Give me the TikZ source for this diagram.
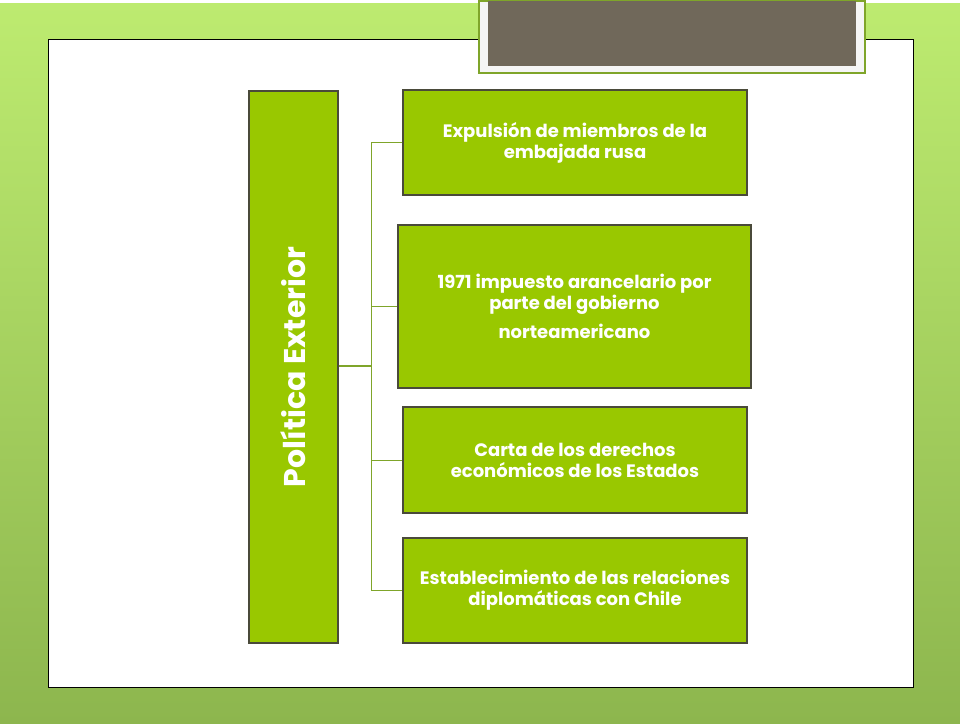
\documentclass[tikz,border=0pt]{standalone}
\usepackage{fontspec}
\setmainfont{Poppins}
\definecolor{leaf}{HTML}{99C800}
\definecolor{edge}{HTML}{4A4A3A}
\definecolor{stone}{HTML}{70685A}
\definecolor{olive}{HTML}{7FA52A}
\definecolor{limetop}{HTML}{BDEB70}
\definecolor{limebot}{HTML}{8DB64E}
\begin{document}
\begin{tikzpicture}[x=1pt, y=-1pt,
    every node/.style={font=\bfseries},
    leafbox/.style={draw=edge, fill=leaf, line width=1.2pt, text=white,
        inner sep=0pt, align=center, font=\fontsize{18}{21}\selectfont\bfseries},
    branch/.style={olive, line width=1pt}]
    % Background and panel
    \shade[top color=limetop, bottom color=limebot] (0,0) rectangle (960,720);
    \draw[black, fill=white, line width=0.8pt] (48,36) rectangle (913,684);
    % Title box at the top
    \draw[olive, fill=gray!8, line width=2pt] (479,-2) rectangle (865,70);
    \fill[stone] (488,-2) rectangle (856,63);

    % Main vertical box
    \node[leafbox, minimum width=89, minimum height=552] (main) at (293.5,364) {};
    \node[rotate=90, text=white, font=\fontsize{30}{34}\selectfont\bfseries] at (main.center) {Política Exterior};

    % Item boxes
    \node[leafbox, minimum width=344, minimum height=105] (expul) at (575,139.5)
        {Expulsión de miembros de la\\embajada rusa};
    \node[leafbox, minimum width=353, minimum height=163] (arancel) at (574.5,303.5)
        {1971 impuesto arancelario por\\parte del gobierno\\[8pt]norteamericano};
    \node[leafbox, minimum width=344, minimum height=106] (carta) at (575,457)
        {Carta de los derechos\\económicos de los Estados};
    \node[leafbox, minimum width=344, minimum height=105] (estab) at (575,587.5)
        {Establecimiento de las relaciones\\diplomáticas con Chile};

    % Connectors
    \coordinate (trunk) at (371,363);
    \draw[branch, line width=2pt] (main.east |- trunk) -- (trunk);
    \draw[branch] (trunk |- expul) -- (trunk |- estab);
    \foreach \item in {expul, arancel, carta, estab}
        \draw[branch] (trunk |- \item) -- (\item.west);
\end{tikzpicture}
\end{document}
